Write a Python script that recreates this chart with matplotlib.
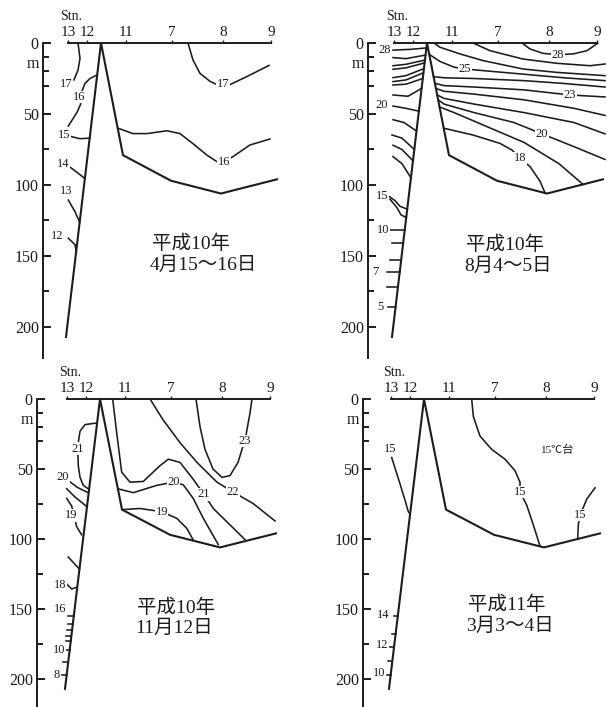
import numpy as np
import matplotlib.pyplot as plt

plt.rcParams['font.family'] = ['Liberation Serif', 'Noto Sans CJK JP']

INK = '#1c1c1c'

# stations along the section (distance units) and their names
stn_x = [0, 19, 58, 104, 155, 203]
stn_names = ['13', '12', '11', '7', '8', '9']

# sea-floor profile: west slope up to the sill, then the eastern basin
bot_x = [-2, 33, 55, 103, 153, 209]
bot_d = [207, 0, 79, 97, 106, 96]

depth_major = [0, 50, 100, 150, 200]
depth_minor = [10, 20, 30, 75, 125, 175]

# ---- April 1998 isotherms: (x list, depth list)
apr_lines = [
    ([10, 12, 10, 6], [0, 11, 19, 26]),
    ([29, 22, 17, 14.5, 12, 12.7, 9.3, 5.3, 0.3], [22.5, 25, 28.4, 33, 38, 43, 48.4, 53, 58.5]),
    ([2, 12, 22], [65.7, 67.4, 67]),
    ([1.3, 10.3, 17], [87, 91.8, 95.5]),
    ([0.3, 7, 11.8], [110.6, 118.8, 126.5]),
    ([0.3, 7, 8.2], [137.5, 142, 147]),
    ([120, 125, 132, 142, 149, 155, 162, 179, 201], [0, 12, 21.4, 27, 29.3, 29, 29.3, 23.6, 15.8]),
    ([50, 65, 79, 99, 112, 125, 139, 149, 156, 165, 182, 202],
     [60, 63.8, 63.8, 61.8, 63.8, 70.9, 79, 83.6, 84, 80, 71.8, 67.6]),
]
apr_labels = [('17', -2, 29), ('16', 11, 38), ('15', -4, 65), ('14', -5, 85),
              ('13', -2, 104), ('12', -11, 136), ('17', 155, 29), ('16', 156, 84)]
apr_ticks = []
apr_title = ['平成10年', '4月15～16日']

# ---- August 1998 isotherms
aug_lines = [
    # west of the sill
    ([-1, 16, 32], [5, 4.5, 3.5]),
    ([-1, 12, 31.5], [10.3, 11, 8.5]),
    ([-1, 12, 31], [16, 15, 12]),
    ([-1, 12, 30.6], [18.5, 17.5, 14]),
    ([-1, 12, 30], [24.4, 23, 18]),
    ([-1, 12, 29.4], [27.2, 26, 21]),
    ([-1, 12, 28.8], [29.6, 29, 25]),
    ([-1, 14, 27.5], [36.6, 37.5, 32]),
    ([-1, 12, 25], [44.4, 46, 48]),
    ([-1, 10, 22.5], [54, 56, 62]),
    ([-2, 8, 20.3], [64.8, 67, 75]),
    ([-1, 8, 19], [72, 75, 83]),
    ([-1, 8, 17], [80, 85, 95]),
    ([-7, 1, 6, 13.2], [107, 111, 115, 117]),
    ([-4, 3, 7, 12.3], [110, 116, 121, 123]),
    ([-4, 10.7], [132, 132]),
    # east of the sill
    ([128, 136, 149, 164, 179, 193, 204], [0, 4.2, 7.3, 8.2, 7.7, 5.4, 0]),
    ([79, 96, 129, 163, 196, 211], [0, 5.4, 11.3, 14.3, 16, 14.8]),
    ([40, 46, 66, 89, 129, 163, 211], [0, 3, 7.7, 12.4, 18.3, 20.7, 23]),
    ([35.2, 46, 60, 71, 90, 130, 170, 211], [8, 13, 17, 18.3, 19.5, 22, 24.5, 26.5]),
    ([39.6, 50, 80, 130, 170, 211], [23.7, 24.5, 25, 26.5, 28.5, 31]),
    ([40.9, 50, 80, 130, 176, 211], [28.4, 30, 31, 33, 36.6, 38]),
    ([41.9, 50, 80, 130, 180, 211], [32, 34, 36, 40, 46, 51]),
    ([43.2, 50, 80, 130, 180, 211], [36.6, 39, 43, 49, 56, 64]),
    ([44.1, 50, 80, 120, 148, 180, 211], [40, 43, 49, 56, 64, 73, 82]),
    ([45.5, 60, 90, 130, 165, 189], [45, 49, 58, 70, 85, 99.6]),
    ([49.7, 79, 106, 118, 126, 136, 146, 151], [60, 64.8, 70.7, 75.4, 81.2, 87, 97.3, 105.5]),
]
aug_labels = [('28', -9, 5), ('20', -12, 44), ('15', -12, 108), ('10', -11, 132),
              ('7', -19, 161), ('5', -14, 186), ('28', 164, 8.2), ('25', 71, 18.3),
              ('23', 176, 36.6), ('20', 148, 64), ('18', 126, 81.2)]
aug_ticks = [(141, 11), (153, 11), (161, 13), (172, 11), (186, 8)]
aug_title = ['平成10年', '8月4～5日']

# ---- November 1998 isotherms
nov_lines = [
    ([30, 18, 13, 11.3, 10.7, 11.3, 13, 16.3, 22], [17.1, 18.3, 23, 31.2, 35.4, 47.6, 55.9, 61.7, 64.5]),
    ([1.3, 10, 21.5], [58.2, 63, 67]),
    ([-0.3, 8, 20], [64.1, 70, 77]),
    ([-0.3, 4.7, 9.7, 14.7], [71, 76.5, 91.3, 97]),
    ([1.3, 12.5], [112.9, 121.6]),
    ([-0.3, 4.7, 9.5], [132.2, 135.7, 134.5]),
    ([129, 133, 138, 146, 155, 163, 171, 176, 178, 180, 183, 185],
     [0, 19.7, 36, 50, 56, 54.7, 45.3, 33.6, 30, 21.8, 10, 0]),
    ([83, 96, 113, 130, 150, 166, 186, 208], [0, 14.8, 31.2, 45.3, 59.4, 66.4, 74.6, 87.1]),
    ([45.7, 49.7, 54.7, 63, 76.3, 93, 101.3, 113, 124.7, 133, 137, 146.3, 163, 178],
     [0, 24.2, 52.3, 59.4, 58.9, 47.6, 43, 45.3, 55.9, 64.1, 68.1, 78.2, 89.9, 100.5]),
    ([50.8, 66.3, 89.7, 106.3, 116.3, 126.3, 136.3, 151.3], [64.1, 66.9, 61.7, 59.4, 61.3, 71.1, 85.2, 104]),
    ([55, 73, 94.7, 109.7, 119.7, 126.3], [79, 78.2, 80.5, 85.2, 92.3, 100.8]),
]
nov_labels = [('21', 10.7, 35.4), ('20', -4, 56), ('19', 3.7, 83), ('18', -7, 133),
              ('16', -7, 150), ('10', -8, 179), ('8', -10, 197), ('23', 178, 30),
              ('22', 166, 66.4), ('21', 137, 68), ('20', 106.3, 59.4), ('19', 94.7, 80.5)]
nov_ticks = [(155, 6), (161, 5), (165, 5), (169, 5), (173, 5), (179, 6), (188, 5), (197, 5)]
nov_title = ['平成10年', '11月12日']

# ---- March 1999 isotherms
mar_lines = [
    ([0.7, 9, 14, 17.3, 19], [41.8, 60.6, 72.3, 80.5, 82]),
    ([80.7, 82.3, 89, 100.7, 114, 124, 129, 129, 135.7, 142.3, 149],
     [0, 12.4, 26.5, 36, 43, 51.2, 59.4, 66.4, 75.8, 89.9, 105]),
    ([204, 195.7, 192.3, 189, 187.3, 186.7], [63.4, 71.6, 77.4, 82.8, 89.9, 100]),
]
mar_labels = [('15', -1, 36), ('15', 129, 66.4), ('15', 189, 82.8),
              ('14', -8, 154.4), ('12', -9, 175.6), ('10', -12, 195.5)]
mar_ticks = [(155, 4), (168, 4), (177, 4), (187, 4), (197, 4)]
mar_title = ['平成11年', '3月3～4日']

panels = [
    # left px, top px, x at left spine, px per metre, spine end, title x, title depths
    (43, 43, -25, 1.42, 222, apr_lines, apr_labels, apr_ticks, apr_title, 84, (141.5, 156.5)),
    (368, 43, -26, 1.42, 222, aug_lines, aug_labels, aug_ticks, aug_title, 72, (142, 157)),
    (37, 399, -30, 1.40, 232, nov_lines, nov_labels, nov_ticks, nov_title, 70, (149, 164)),
    (363, 399, -28, 1.40, 232, mar_lines, mar_labels, mar_ticks, mar_title, 77, (147, 162.5)),
]

W, H = 607, 707
fig = plt.figure(figsize=(W / 100, H / 100), dpi=100)

for left, top, x0, ky, spine_end, lines, labels, ticks, title, tx, tds in panels:
    x1, d1 = 216, 235
    ax = fig.add_axes([left / W, 1 - (top + d1 * ky) / H, (x1 - x0) / W, d1 * ky / H])
    ax.set_xlim(x0, x1)
    ax.set_ylim(d1, 0)
    ax.patch.set_visible(False)

    for side in ['right', 'bottom']:
        ax.spines[side].set_visible(False)
    ax.spines['left'].set_bounds(0, spine_end)
    ax.spines['top'].set_bounds(stn_x[0], stn_x[-1])
    for side in ['left', 'top']:
        ax.spines[side].set_linewidth(1.4)
        ax.spines[side].set_color(INK)

    # depth axis, ticks pointing into the section
    ax.set_yticks(depth_major)
    ax.set_yticklabels([str(v) for v in depth_major])
    ax.set_yticks(depth_minor, minor=True)
    ax.tick_params(axis='y', which='major', direction='in', length=6, width=1.4,
                   color=INK, labelsize=11.5, labelcolor=INK, pad=3)
    ax.tick_params(axis='y', which='minor', direction='in', length=4, width=1.4, color=INK)
    ax.text(x0 - 10, 15, 'm', fontsize=11.5, ha='center', va='center', color=INK)

    # station axis
    ax.xaxis.tick_top()
    ax.set_xticks(stn_x)
    ax.set_xticklabels(stn_names)
    ax.tick_params(axis='x', direction='out', length=2.5, width=1.0, color=INK,
                   labelsize=11, labelcolor=INK, pad=0.5)
    ax.text(-8, -19, 'Stn.', fontsize=10, ha='left', va='center', color=INK)

    ax.plot(bot_x, bot_d, color=INK, lw=1.5, clip_on=False, zorder=3)
    for xs, ds in lines:
        ax.plot(xs, ds, color=INK, lw=1.15, zorder=2)

    # short isotherm ticks along the west slope
    for d, length in ticks:
        xs = np.interp(d, [0, bot_d[0]], [bot_x[1], bot_x[0]])
        ax.plot([xs - length, xs], [d, d], color=INK, lw=1.15, zorder=2)

    for s, x, d in labels:
        ax.text(x, d, s, fontsize=9, ha='center', va='center', color=INK, zorder=4,
                bbox=dict(fc='white', ec='none', pad=0.3))

    ax.text(tx, tds[0], title[0], fontsize=14, ha='left', va='center', color=INK)
    ax.text(tx - 2, tds[1], title[1], fontsize=14, ha='left', va='center', color=INK)

    if title[0] == '平成11年':
        ax.text(167, 36, '15℃台', fontsize=8, ha='center', va='center', color=INK)

fig.savefig('out.png', dpi=100, facecolor='white')
